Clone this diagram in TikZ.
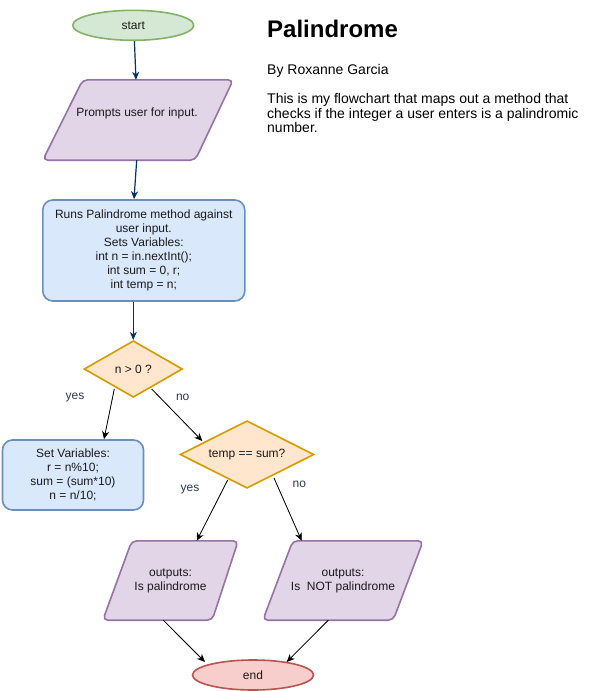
\documentclass[tikz,border=0pt]{standalone}
\usepackage{fontspec}
\setmainfont{Liberation Sans}
\usetikzlibrary{shapes.geometric,arrows.meta,backgrounds}

\definecolor{greenF}{HTML}{D5E8D4}
\definecolor{greenS}{HTML}{82B366}
\definecolor{redF}{HTML}{F8CECC}
\definecolor{redS}{HTML}{B85450}
\definecolor{blueF}{HTML}{DAE8FC}
\definecolor{blueS}{HTML}{6C8EBF}
\definecolor{orF}{HTML}{FFE6CC}
\definecolor{orS}{HTML}{D79B00}
\definecolor{purF}{HTML}{E1D5E7}
\definecolor{purS}{HTML}{9673A6}
\definecolor{arrowblue}{HTML}{003366}
\definecolor{txt}{HTML}{1A1A1A}
\definecolor{lblcol}{HTML}{2B3A4E}

\begin{document}
\begin{tikzpicture}[x=1pt,y=-1pt,
  base/.style={inner sep=0pt, text=txt, font=\fontsize{12pt}{14pt}\selectfont, align=center},
  term/.style={base, ellipse, line width=1.6pt, minimum width=121pt, minimum height=30pt},
  startbox/.style={term, fill=greenF, draw=greenS},
  endbox/.style={term, fill=redF, draw=redS},
  procbox/.style={base, rectangle, rounded corners=10pt, draw=blueS, fill=blueF, line width=1.6pt},
  decbox/.style={base, diamond, aspect=2, draw=orS, fill=orF, line width=1.6pt},
  iobox/.style={base, rectangle},
  ioshape/.style={draw=purS, fill=purF, line width=1.6pt, rounded corners=5pt},
  tip/.style={-{Stealth[length=8pt,width=7pt,inset=2.5pt]}},
  flowb/.style={tip, draw=arrowblue, fill=arrowblue, line width=1.2pt},
  flowk/.style={tip, draw=black, fill=black, line width=0.8pt},
  lbl/.style={inner sep=0pt, text=lblcol, font=\fontsize{12pt}{14pt}\selectfont},
  head/.style={anchor=base west, inner sep=0pt, text=black},
]
\useasboundingbox (0,0) rectangle (594,691);

% terminals
\node[startbox] (nstart) at (133.2,25.3) {start};
\node[endbox] (nend) at (253,675) {end};

% input / output frames (slanted outlines drawn on the background layer)
\node[iobox, minimum width=190pt, minimum height=80pt] (p1) at (138,120) {};
\node[base] (p1t) at (137,113) {Prompts user for input.};
\node[iobox, minimum width=135pt, minimum height=79pt] (o1) at (170.5,580.5) {outputs:\\Is palindrome};
\node[iobox, minimum width=160pt, minimum height=79pt] (o2) at (343,580.5) {outputs:\\Is\ \ NOT palindrome};

% processes
\node[procbox, minimum width=202pt, minimum height=101pt] (b1) at (143.8,250.5)
  {Runs Palindrome method against\\user input.\\Sets Variables:\\int n = in.nextInt();\\int sum = 0, r;\\int temp = n;};
\node[procbox, minimum width=141pt, minimum height=70pt] (b2) at (73,475)
  {Set Variables:\\r = n\%10;\\sum = (sum*10)\\n = n/10;};

% decisions
\node[decbox, minimum width=98.5pt, minimum height=56.6pt] (d1) at (133.3,369) {n > 0 ?};
\node[decbox, minimum width=134pt, minimum height=67.6pt] (d2) at (247,454.5) {temp == sum?};

\begin{scope}[on background layer]
  \fill[white] (0,0) rectangle (594,691);
  \path[ioshape] ([xshift=40pt]p1.north west) -- (p1.north east)
     -- ([xshift=-38pt]p1.south east) -- (p1.south west) -- cycle;
  \path[ioshape] ([xshift=29pt]o1.north west) -- (o1.north east)
     -- ([xshift=-26pt]o1.south east) -- (o1.south west) -- cycle;
  \path[ioshape] ([xshift=30pt]o2.north west) -- (o2.north east)
     -- ([xshift=-30pt]o2.south east) -- (o2.south west) -- cycle;
\end{scope}

% connectors
\draw[flowb] ([xshift=1.2pt]nstart.south) -- ([xshift=-2pt]p1.north);
\draw[flowb] ([xshift=-1.3pt]p1.south) -- ([xshift=-9.8pt]b1.north);
\draw[flowb] ([xshift=-10.5pt]b1.south) -- (d1.north);
\draw[flowk] ([shift={(-19pt,-20pt)}]d1.center) -- ([xshift=31pt]b2.north);
\draw[flowk] ([shift={(18.4pt,-20pt)}]d1.center) -- ([shift={(-44.7pt,13.5pt)}]d2.center);
\draw[flowk] ([shift={(-19.3pt,-25.5pt)}]d2.center) -- ([xshift=26.2pt]o1.north);
\draw[flowk] ([shift={(27pt,-23.5pt)}]d2.center) -- ([xshift=-41.3pt]o2.north);
\draw[flowk] ([xshift=-7.2pt]o1.south) -- ([shift={(-48pt,13pt)}]nend.center);
\draw[flowk] ([xshift=-14.7pt]o2.south) -- ([shift={(33.7pt,13pt)}]nend.center);

% branch labels
\node[lbl] (y1) at (75,397.7) {yes};
\node[lbl] (n1) at (182.7,397.7) {no};
\node[lbl] (y2) at (190,489.3) {yes};
\node[lbl] (n2) at (299.3,484) {no};

% heading and description
\node[head, font=\fontsize{24pt}{28pt}\selectfont\bfseries] (title) at (267,37) {Palindrome};
\node[head, font=\fontsize{14pt}{16pt}\selectfont] (author) at (267,74) {By Roxanne Garcia};
\node[head, font=\fontsize{14pt}{16pt}\selectfont] (desc1) at (267,103.3) {This is my flowchart that maps out a method that};
\node[head, font=\fontsize{14pt}{16pt}\selectfont] (desc2) at (267,118) {checks if the integer a user enters is a palindromic};
\node[head, font=\fontsize{14pt}{16pt}\selectfont] (desc3) at (267,132.7) {number.};
\end{tikzpicture}
\end{document}
